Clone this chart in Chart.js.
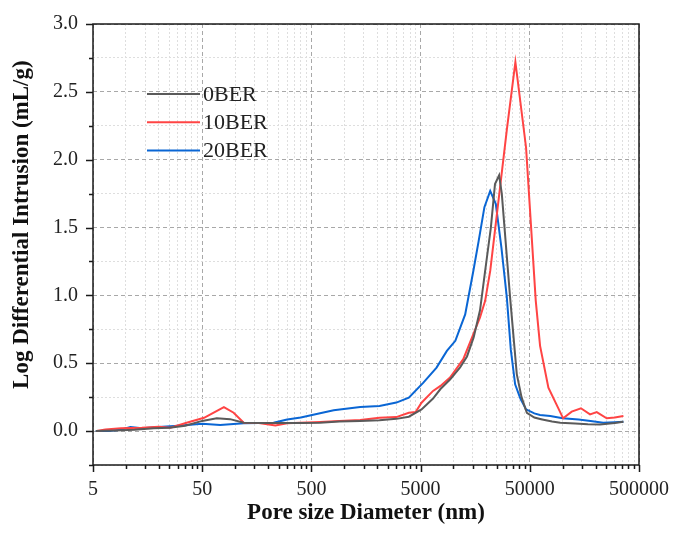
<!DOCTYPE html>
<html>
<head>
<meta charset="utf-8">
<script src="https://cdn.jsdelivr.net/npm/chart.js@4/dist/chart.umd.min.js"></script>
<style>
  html, body { margin: 0; padding: 0; background: #fff; }
</style>
</head>
<body>
<canvas id="chart" width="673" height="536"></canvas>
<script>
'use strict'

// pore size (nm) / log differential intrusion (mL/g)
var size0 = [5.3, 8, 12, 18, 25, 35, 50, 68, 90, 120, 180, 260, 400, 600, 900, 1400, 2100, 3000, 3900,
  5100, 6500, 7600, 9300, 11500, 13300, 15300, 17500, 19500, 22000, 24000, 26200, 27700, 33000,
  38000, 42000, 47000, 55000, 65000, 80000, 95000, 130000, 170000, 220000, 300000, 360000]
var ber0 = [0.0, 0.005, 0.01, 0.02, 0.025, 0.04, 0.075, 0.094, 0.088, 0.062, 0.06, 0.06, 0.06, 0.062, 0.07,
  0.075, 0.079, 0.09, 0.106, 0.16, 0.24, 0.31, 0.38, 0.47, 0.55, 0.69, 0.89, 1.18, 1.5, 1.82, 1.885, 1.75,
  0.985, 0.42, 0.25, 0.135, 0.1, 0.086, 0.07, 0.061, 0.055, 0.05, 0.049, 0.06, 0.069]

var size10 = [5.4, 6.5, 9, 14, 20, 25.6, 36, 52, 65, 79, 97, 120, 165, 234, 300, 600, 900, 1400, 2100,
  3000, 3900, 4500, 5100, 6500, 7600, 9300, 12300, 17500, 19500, 21700, 30800, 36900, 46200, 56700,
  62100, 74000, 101000, 121000, 147000, 178000, 205000, 253000, 300000, 360000]
var ber10 = [0.0, 0.012, 0.02, 0.025, 0.032, 0.025, 0.061, 0.098, 0.14, 0.177, 0.135, 0.061, 0.06, 0.042,
  0.057, 0.067, 0.075, 0.081, 0.098, 0.103, 0.135, 0.14, 0.209, 0.296, 0.333, 0.394, 0.53, 0.837, 0.96,
  1.18, 2.22, 2.72, 2.09, 0.96, 0.628, 0.32, 0.094, 0.143, 0.168, 0.123, 0.14, 0.094, 0.1, 0.111]

var size20 = [5.3, 7, 9, 11, 14, 20, 30, 50, 73, 120, 225, 300, 400, 600, 800, 1400, 2100, 3000, 3900,
  5300, 7000, 8700, 10400, 12800, 15200, 17000, 19200, 21700, 24400, 27500, 30800, 33500, 36700,
  41000, 46200, 55000, 62000, 77000, 100000, 140000, 180000, 235000, 300000, 360000]
var ber20 = [0.0, 0.0, 0.01, 0.03, 0.02, 0.03, 0.04, 0.054, 0.044, 0.057, 0.061, 0.086, 0.1, 0.131, 0.153,
  0.177, 0.185, 0.21, 0.246, 0.357, 0.468, 0.591, 0.665, 0.86, 1.18, 1.4, 1.65, 1.77, 1.675, 1.35, 0.985,
  0.6, 0.345, 0.24, 0.16, 0.13, 0.118, 0.111, 0.094, 0.085, 0.074, 0.061, 0.065, 0.069]

var seriesNames = ['0BER', '10BER', '20BER']
var seriesColors = ['#5a5a5a', '#ff4444', '#0a66d4']

var xMajor = [5, 50, 500, 5000, 50000, 500000]
var yMin = -0.25
var yMax = 3.0

var xTitle = 'Pore size Diameter (nm)'
var yTitle = 'Log Differential Intrusion (mL/g)'

var serif = '"Liberation Serif", "Times New Roman", serif'

// minor ticks at 5, 10, 15 ... 45, then 50, 100, 150 ... and so on
var xTicks = []
xMajor.forEach(function (d, i) {
  if (i === xMajor.length - 1) {
    xTicks.push(d)
    return
  }
  for (var k = 1; k <= 9; k++) xTicks.push(d * k)
})

function isMajorX(v) {
  return xMajor.indexOf(v) >= 0
}

function isMajorY(v) {
  return v > -0.01 && Math.abs(v * 2 - Math.round(v * 2)) < 1e-6
}

function pairs(xs, ys) {
  return xs.map(function (x, i) { return { x: x, y: ys[i] } })
}

var frame = {
  id: 'frame',
  afterDatasetsDraw: function (chart) {
    var ctx = chart.ctx
    var a = chart.chartArea
    var sx = chart.scales.x
    var sy = chart.scales.y
    ctx.save()
    ctx.strokeStyle = '#1a1a1a'
    ctx.lineWidth = 1.5
    ctx.setLineDash([])
    ctx.strokeRect(a.left, a.top, a.right - a.left, a.bottom - a.top)

    ctx.beginPath()
    sx.ticks.forEach(function (t) {
      var px = Math.round(sx.getPixelForValue(t.value)) + 0.5
      var len = isMajorX(t.value) ? 7 : 4
      ctx.moveTo(px, a.bottom)
      ctx.lineTo(px, a.bottom + len)
    })
    sy.ticks.forEach(function (t) {
      var py = Math.round(sy.getPixelForValue(t.value)) + 0.5
      var len = isMajorY(t.value) ? 7 : 4
      ctx.moveTo(a.left, py)
      ctx.lineTo(a.left - len, py)
    })
    ctx.stroke()

    // y title sits a little above the plot centre in the original
    ctx.translate(22.5, a.top + (a.bottom - a.top) * 0.455)
    ctx.rotate(-Math.PI / 2)
    ctx.font = 'bold 23px ' + serif
    ctx.textAlign = 'center'
    ctx.textBaseline = 'middle'
    ctx.fillStyle = '#111'
    ctx.fillText(yTitle, 0, 0)
    ctx.restore()
  }
}

var legendBox = {
  id: 'legendBox',
  afterDraw: function (chart) {
    var ctx = chart.ctx
    ctx.save()
    ctx.font = '22px ' + serif
    ctx.textBaseline = 'middle'
    ctx.fillStyle = '#222'
    chart.data.datasets.forEach(function (ds, i) {
      var y = 94 + i * 28.3
      ctx.strokeStyle = ds.borderColor
      ctx.lineWidth = 2
      ctx.beginPath()
      ctx.moveTo(147, y)
      ctx.lineTo(200, y)
      ctx.stroke()
      ctx.fillText(ds.label, 203, y + 1)
    })
    ctx.restore()
  }
}

var datasets = [pairs(size0, ber0), pairs(size10, ber10), pairs(size20, ber20)].map(function (d, i) {
  return {
    label: seriesNames[i],
    data: d,
    borderColor: seriesColors[i],
    backgroundColor: seriesColors[i],
    borderWidth: 2,
    pointRadius: 0,
    tension: 0,
    fill: false
  }
})

new Chart(document.getElementById('chart'), {
  type: 'line',
  data: { datasets: datasets },
  plugins: [frame, legendBox],
  options: {
    responsive: false,
    animation: false,
    devicePixelRatio: 1,
    layout: { padding: { top: 24, right: 34, left: 0, bottom: 0 } },
    plugins: { legend: { display: false }, tooltip: { enabled: false } },
    scales: {
      x: {
        type: 'logarithmic',
        min: 5,
        max: 500000,
        afterBuildTicks: function (scale) {
          scale.ticks = xTicks.map(function (v) { return { value: v } })
        },
        afterFit: function (scale) {
          scale.height = 71
          scale.paddingLeft = 0
          scale.paddingRight = 0
        },
        ticks: {
          autoSkip: false,
          maxRotation: 0,
          padding: 13,
          color: '#222',
          font: { family: serif, size: 20 },
          callback: function (v) { return isMajorX(v) ? String(v) : '' }
        },
        grid: {
          drawTicks: false,
          lineWidth: 1,
          color: function (c) {
            return c.tick && isMajorX(c.tick.value) ? '#a8a8a8' : '#dedede'
          }
        },
        border: {
          display: false,
          dash: function (c) {
            return c.tick && isMajorX(c.tick.value) ? [4, 3] : [2, 2]
          }
        },
        title: {
          display: true,
          text: xTitle,
          color: '#111',
          font: { family: serif, size: 23, weight: 'bold' },
          padding: { top: 0, bottom: 9 }
        }
      },
      y: {
        min: yMin,
        max: yMax,
        afterFit: function (scale) {
          scale.width = 93
          scale.paddingTop = 0
          scale.paddingBottom = 0
        },
        ticks: {
          stepSize: 0.25,
          autoSkip: false,
          padding: 15,
          color: '#222',
          font: { family: serif, size: 20 },
          callback: function (v) { return isMajorY(v) ? v.toFixed(1) : '' }
        },
        grid: {
          drawTicks: false,
          lineWidth: 1,
          color: function (c) {
            return c.tick && isMajorY(c.tick.value) ? '#a8a8a8' : '#dedede'
          }
        },
        border: {
          display: false,
          dash: function (c) {
            return c.tick && isMajorY(c.tick.value) ? [4, 3] : [2, 2]
          }
        }
      }
    }
  }
})
</script>
</body>
</html>
